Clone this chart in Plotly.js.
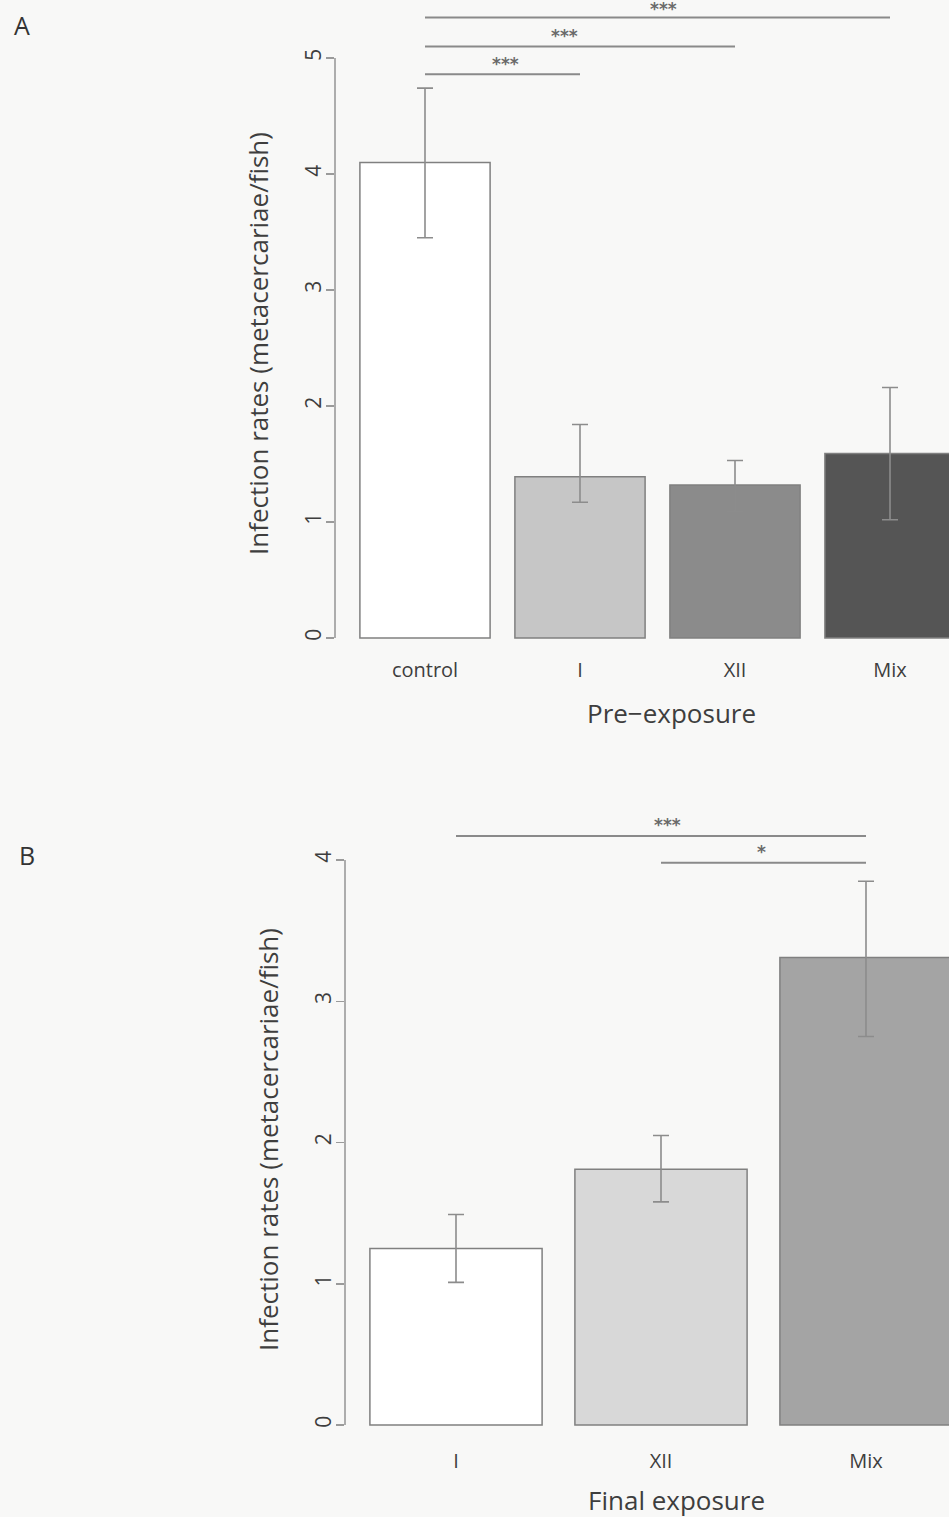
<!DOCTYPE html>
<html>
<head>
<meta charset="utf-8">
<script src="https://cdn.plot.ly/plotly-3.0.1.min.js"></script>
<style>
html,body{margin:0;padding:0;background:#f8f8f7;overflow:hidden;}
#chart{width:949px;height:1517px;}
</style>
</head>
<body>
<div id="chart"></div>
<script>
// Panel A: pre-exposure
const catsA = ["control", "I", "XII", "Mix"];
const meanA = [4.10, 1.39, 1.32, 1.59];
const upperA = [4.74, 1.84, 1.53, 2.16];
const lowerA = [3.45, 1.17, 1.09, 1.02];
const colorsA = ["#ffffff", "#c6c6c6", "#8b8b8b", "#555555"];
// Panel B: final exposure
const catsB = ["I", "XII", "Mix"];
const meanB = [1.25, 1.81, 3.31];
const upperB = [1.49, 2.05, 3.85];
const lowerB = [1.01, 1.58, 2.75];
const colorsB = ["#ffffff", "#d8d8d8", "#a4a4a4"];
// Significance brackets: [from index, to index, label]
const sigA = [[0, 1, "***"], [0, 2, "***"], [0, 3, "***"]];
const sigB = [[0, 2, "***"], [1, 2, "*"]];
const yTitle = "Infection rates (metacercariae/ﬁsh)";
const xTitleA = "Pre−exposure";
const xTitleB = "Final exposure";

const font = "Open Sans, Noto Sans, sans-serif";
const txt = "#3e3e3e";

function errs(mean, up, lo) {
  return {
    type: "data", symmetric: false,
    array: mean.map((m, i) => up[i] - m),
    arrayminus: mean.map((m, i) => m - lo[i]),
    color: "#8c8c8c", thickness: 1.6, width: 8
  };
}

const traceA = {
  type: "bar", x: catsA.map((c, i) => i), y: meanA, width: 0.84,
  marker: {color: colorsA, line: {color: "#808080", width: 1.5}},
  error_y: errs(meanA, upperA, lowerA), xaxis: "x", yaxis: "y",
  hoverinfo: "none"
};
const traceB = {
  type: "bar", x: catsB.map((c, i) => i), y: meanB, width: 0.84,
  marker: {color: colorsB, line: {color: "#808080", width: 1.5}},
  error_y: errs(meanB, upperB, lowerB), xaxis: "x2", yaxis: "y2",
  hoverinfo: "none"
};

const W = 949, H = 1517;
const axA = {left: 335, top: 0, bottom: 650};
const axB = {left: 345, top: 800, bottom: 1437};

const shapes = [];
const annotations = [];

// y axis lines (R style, spanning ticks only)
shapes.push({type: "line", xref: "x domain", yref: "y", x0: 0, x1: 0, y0: 0, y1: 5,
  line: {color: "#9a9a9a", width: 1.6}});
shapes.push({type: "line", xref: "x2 domain", yref: "y2", x0: 0, x1: 0, y0: 0, y1: 4,
  line: {color: "#9a9a9a", width: 1.6}});

const starFont = {family: "DejaVu Sans, sans-serif", size: 17, color: "#6a6a6a"};
// significance lines A
const sigYA = [4.86, 5.10, 5.35];
const starXA = [0.52, 0.90, 1.54];
const starDYA = [0.09, 0.09, 0.07];
sigA.forEach((s, k) => {
  shapes.push({type: "line", xref: "x", yref: "y", x0: s[0], x1: s[1], y0: sigYA[k], y1: sigYA[k],
    line: {color: "#8a8a8a", width: 2}});
  annotations.push({xref: "x", yref: "y", x: starXA[k], y: sigYA[k] + starDYA[k], text: "<b>" + s[2] + "</b>",
    showarrow: false, yanchor: "middle", font: starFont});
});
const sigYB = [4.17, 3.98];
const starXB = [1.03, 1.49];
sigB.forEach((s, k) => {
  shapes.push({type: "line", xref: "x2", yref: "y2", x0: s[0], x1: s[1], y0: sigYB[k], y1: sigYB[k],
    line: {color: "#8a8a8a", width: 2}});
  annotations.push({xref: "x2", yref: "y2", x: starXB[k], y: sigYB[k] + 0.08, text: "<b>" + s[2] + "</b>",
    showarrow: false, yanchor: "middle", font: starFont});
});

// axis titles (placed where the R figure centres them)
const titleFont = {family: font, size: 26, color: txt};
annotations.push({xref: "paper", yref: "paper", x: 671 / W, y: 1 - 713 / H, text: xTitleA,
  showarrow: false, xanchor: "center", yanchor: "middle", font: titleFont});
annotations.push({xref: "paper", yref: "paper", x: 676 / W, y: 1 - 1500 / H, text: xTitleB,
  showarrow: false, xanchor: "center", yanchor: "middle", font: titleFont});
annotations.push({xref: "paper", yref: "paper", x: 258 / W, y: 1 - 344 / H, text: yTitle,
  textangle: -90, showarrow: false, xanchor: "center", yanchor: "middle", font: titleFont});
annotations.push({xref: "paper", yref: "paper", x: 268 / W, y: 1 - 1140 / H, text: yTitle,
  textangle: -90, showarrow: false, xanchor: "center", yanchor: "middle", font: titleFont});

// panel letters
annotations.push({xref: "paper", yref: "paper", x: 22 / W, y: 1 - 25 / H, text: "A",
  showarrow: false, xanchor: "center", yanchor: "middle", font: {family: font, size: 25, color: "#333"}});
annotations.push({xref: "paper", yref: "paper", x: 27 / W, y: 1 - 855 / H, text: "B",
  showarrow: false, xanchor: "center", yanchor: "middle", font: {family: font, size: 25, color: "#333"}});

const pxA = 116, pxB = 141.25;
const zeroA = 638, zeroB = 1425;

const tickFontX = {size: 20, color: txt};
const tickFontY = {size: 21, color: txt};

const layout = {
  width: W, height: H,
  margin: {l: 0, r: 0, t: 0, b: 0},
  paper_bgcolor: "#f8f8f7", plot_bgcolor: "rgba(0,0,0,0)",
  showlegend: false,
  font: {family: font, color: txt},
  xaxis: {
    domain: [axA.left / W, 1], anchor: "y",
    range: [(axA.left - 425) / 155, (W - 425) / 155],
    tickvals: catsA.map((c, i) => i), ticktext: catsA,
    ticks: "", showline: false, showgrid: false, zeroline: false,
    tickfont: tickFontX, ticklabelstandoff: 6
  },
  yaxis: {
    domain: [1 - axA.bottom / H, 1 - axA.top / H], anchor: "x",
    range: [-(axA.bottom - zeroA) / pxA, (zeroA - axA.top) / pxA],
    tickvals: [0, 1, 2, 3, 4, 5], ticks: "outside", ticklen: 8, tickcolor: "#9a9a9a", tickwidth: 1.5,
    tickangle: -90, tickfont: tickFontY, ticklabelstandoff: -3,
    showline: false, showgrid: false, zeroline: false
  },
  xaxis2: {
    domain: [axB.left / W, 1], anchor: "y2",
    range: [(axB.left - 456) / 205, (W - 456) / 205],
    tickvals: catsB.map((c, i) => i), ticktext: catsB,
    ticks: "", showline: false, showgrid: false, zeroline: false,
    tickfont: tickFontX, ticklabelstandoff: 10
  },
  yaxis2: {
    domain: [1 - axB.bottom / H, 1 - axB.top / H], anchor: "x2",
    range: [-(axB.bottom - zeroB) / pxB, (zeroB - axB.top) / pxB],
    tickvals: [0, 1, 2, 3, 4], ticks: "outside", ticklen: 8, tickcolor: "#9a9a9a", tickwidth: 1.5,
    tickangle: -90, tickfont: tickFontY, ticklabelstandoff: -3,
    showline: false, showgrid: false, zeroline: false
  },
  shapes: shapes,
  annotations: annotations
};

Plotly.newPlot("chart", [traceA, traceB], layout, {displayModeBar: false, staticPlot: true});
</script>
</body>
</html>
